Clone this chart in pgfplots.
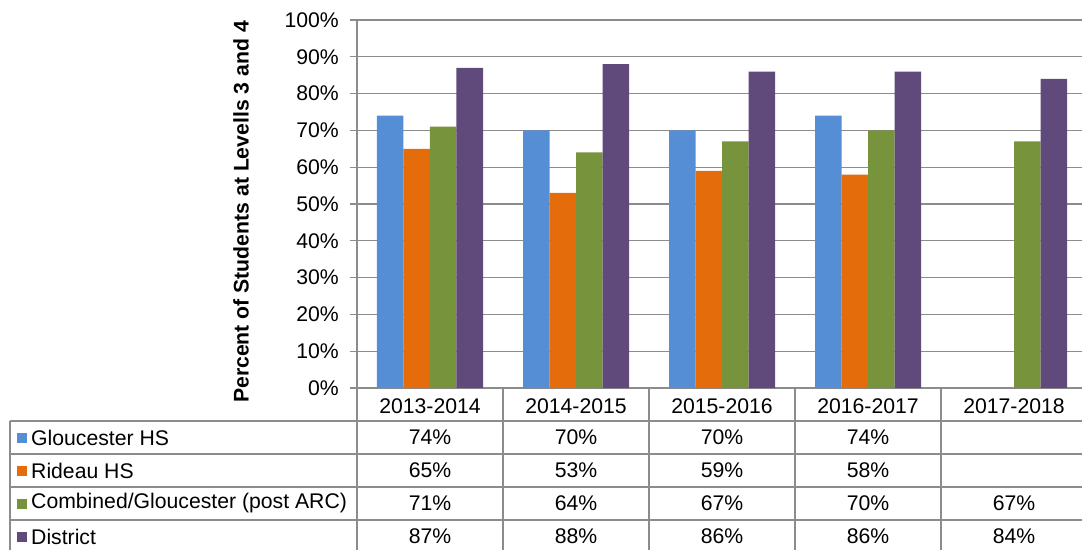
\documentclass[border=0pt]{standalone}
\usepackage{pgfplots}
\pgfplotsset{compat=1.18}
\usepackage{fontspec}
\setmainfont{Liberation Sans}
\definecolor{cBlue}{HTML}{558ED5}
\definecolor{cOrange}{HTML}{E46C0A}
\definecolor{cGreen}{HTML}{77933C}
\definecolor{cPurple}{HTML}{604A7B}
\definecolor{gridc}{HTML}{8C8C8C}
\begin{document}
\fontsize{21.2bp}{25bp}\selectfont
\begin{tikzpicture}
\path[use as bounding box] (-357bp,-162bp) rectangle (725bp,388bp);
\begin{axis}[at={(0,0)}, anchor=south west, scale only axis,
 width=730bp, height=368bp,
 xmin=-0.5, xmax=4.5, ymin=0, ymax=100,
 ybar=0pt, bar width=26.5bp,
 axis lines*=left, axis line style={draw=gridc, line width=1.2bp},
 ytick={0,10,...,100}, yticklabel={\pgfmathprintnumber{\tick}\%},
 ymajorgrids, grid style={draw=gridc, line width=1.2bp},
 xtick={0,...,4}, xticklabels={2013-2014,2014-2015,2015-2016,2016-2017,2017-2018},
 xtick style={draw=none}, ytick style={draw=gridc, line width=1.2bp},
 tick align=outside, major tick length=7bp,
 xticklabel style={anchor=center, yshift=-11.5bp},
 yticklabel style={xshift=-4bp},
 /pgf/number format/assume math mode=true,
 clip=false, font=\fontsize{21.2bp}{25bp}\selectfont,
 every axis plot/.append style={draw=none}
]
\addplot[fill=cBlue] coordinates {(0,74) (1,70) (2,70) (3,74)};
\addplot[fill=cOrange] coordinates {(0,65) (1,53) (2,59) (3,58)};
\addplot[fill=cGreen] coordinates {(0,71) (1,64) (2,67) (3,70) (4,67)};
\addplot[fill=cPurple] coordinates {(0,87) (1,88) (2,86) (3,86) (4,84)};
\end{axis}
% table grid
\begin{scope}[draw=gridc, line width=1.2bp]
\foreach \y in {-33,-66,-99,-132} \draw (-347bp,\y bp) -- (730bp,\y bp);
\draw (-347bp,-33bp) -- (-347bp,-170bp);
\foreach \x in {0,146,292,438,584,730} \draw (\x bp,0bp) -- (\x bp,-170bp);
\end{scope}
% legend keys and names
\foreach \c/\t [count=\i from 0] in {cBlue/Gloucester HS, cOrange/Rideau HS, cGreen/Combined\slash Gloucester (post ARC), cPurple/District}{
  \fill[\c] (-340bp,{-54.5bp-33bp*\i}) rectangle ++(10bp,10bp);
  \node[anchor=west, inner sep=0pt] at (-326bp,{-49.5bp-33bp*\i}) {\t};
}
% table values
\foreach \v [count=\j from 0] in {74\%,70\%,70\%,74\%} \node at ({73bp+146bp*\j},-49.5bp) {\v};
\foreach \v [count=\j from 0] in {65\%,53\%,59\%,58\%} \node at ({73bp+146bp*\j},-82.5bp) {\v};
\foreach \v [count=\j from 0] in {71\%,64\%,67\%,70\%,67\%} \node at ({73bp+146bp*\j},-115.5bp) {\v};
\foreach \v [count=\j from 0] in {87\%,88\%,86\%,86\%,84\%} \node at ({73bp+146bp*\j},-148.5bp) {\v};
\node[rotate=90, font=\bfseries] at (-116bp,176bp) {Percent of Students at Levells 3 and 4};
\end{tikzpicture}
\end{document}
